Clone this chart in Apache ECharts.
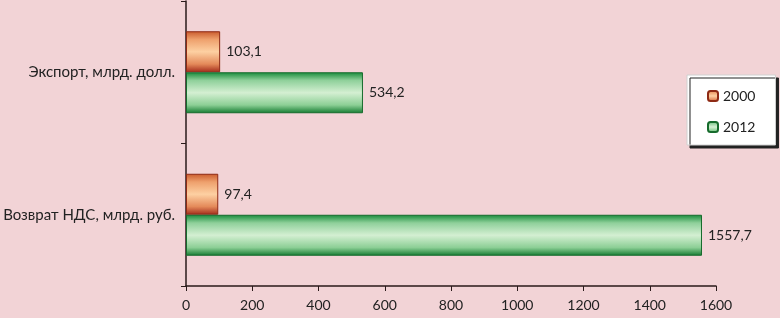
<!DOCTYPE html>
<html><head><meta charset="utf-8">
<script src="https://cdn.jsdelivr.net/npm/echarts@6/dist/echarts.min.js"></script>
<style>html,body{margin:0;padding:0;background:#f2d3d6;}#c{width:780px;height:318px;}</style>
</head><body><div id="c"></div>
<script>
// Categories listed bottom-to-top (ECharts category y-axis starts at bottom)
const categories = ['Возврат НДС, млрд. руб.', 'Экспорт, млрд. долл.'];
const values2000 = [97.4, 103.1];
const values2012 = [1557.7, 534.2];
const seriesNames = ['2000', '2012'];
const xTicks = { min: 0, max: 1600, interval: 200 };

const font = 'Lato, "Open Sans", sans-serif';
const orangeGrad = new echarts.graphic.LinearGradient(0, 0, 0, 1, [
  { offset: 0, color: '#c95a2c' },
  { offset: 0.2, color: '#eea06c' },
  { offset: 0.5, color: '#fdd0a2' },
  { offset: 0.8, color: '#e48a5a' },
  { offset: 1, color: '#a22a1a' }
]);
const greenGrad = new echarts.graphic.LinearGradient(0, 0, 0, 1, [
  { offset: 0, color: '#178a3a' },
  { offset: 0.2, color: '#8fd09a' },
  { offset: 0.5, color: '#d4efd2' },
  { offset: 0.8, color: '#8ccf95' },
  { offset: 1, color: '#137a30' }
]);
const fmt = p => String(p.value).replace('.', ',');
const labelCfg = { show: true, position: 'right', distance: 6, color: '#222', fontSize: 14, fontFamily: font, formatter: fmt };

const chart = echarts.init(document.getElementById('c'));
chart.setOption({
  backgroundColor: '#f2d3d6',
  animation: false,
  grid: { left: 186, right: 64, top: 1, bottom: 32, containLabel: false },
  legend: {
    data: seriesNames,
    orient: 'vertical',
    left: 687, top: 75,
    padding: [14, 20, 11, 20],
    itemGap: 17,
    itemWidth: 10, itemHeight: 10,
    backgroundColor: '#ffffff',
    borderColor: '#d0d0d0', borderWidth: 1,
    shadowColor: '#222', shadowOffsetX: 3, shadowOffsetY: 3, shadowBlur: 0,
    textStyle: { fontSize: 14, fontFamily: font, color: '#222' }
  },
  xAxis: {
    type: 'value', min: xTicks.min, max: xTicks.max, interval: xTicks.interval,
    axisLine: { show: true, lineStyle: { color: '#2a1a1a', width: 1.5 } },
    axisTick: { show: true, length: 5, lineStyle: { color: '#2a1a1a' } },
    splitLine: { show: false },
    axisLabel: { color: '#222', fontSize: 14, fontFamily: font, margin: 12, formatter: v => String(v) }
  },
  yAxis: {
    type: 'category', data: categories,
    axisLine: { show: true, lineStyle: { color: '#2a1a1a', width: 1.5 } },
    axisTick: { show: true, length: 5, lineStyle: { color: '#2a1a1a' } },
    axisLabel: { color: '#222', fontSize: 15, fontFamily: font, margin: 11 }
  },
  series: [
    {
      name: seriesNames[0], type: 'bar', data: values2000, barWidth: 41, barGap: '0%',
      itemStyle: { color: orangeGrad, borderColor: '#8e2a14', borderWidth: 1 },
      label: labelCfg
    },
    {
      name: seriesNames[1], type: 'bar', data: values2012, barWidth: 41, barGap: '0%',
      itemStyle: { color: greenGrad, borderColor: '#166b2c', borderWidth: 1 },
      label: labelCfg
    }
  ]
});
</script></body></html>
